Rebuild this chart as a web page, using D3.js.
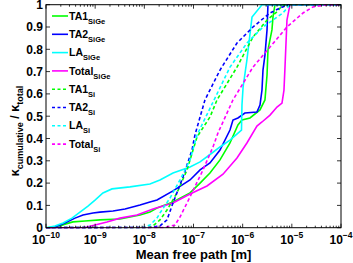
<!DOCTYPE html>
<html><head><meta charset="utf-8">
<script src="https://cdn.jsdelivr.net/npm/d3@7"></script>
<style>body{margin:0;background:#fff}svg{display:block;font-family:"Liberation Sans",Arial,sans-serif;font-weight:bold}</style>
</head><body>
<script>
// Data: mean free path [m] and normalized cumulative conductivity
const ta1SiGeX = [1e-10,1.68e-10,2.43e-10,3.54e-10,6.21e-10,1.25e-9,3.2e-9,8.17e-9,1.3e-8,1.81e-8,3.83e-8,8.49e-8,1.36e-7,2.16e-7,3.46e-7,5.52e-7,8.02e-7,9.68e-7,1.41e-6,2.25e-6,2.84e-6,3.13e-6,3.27e-6,3.94e-6,4.14e-6,4.54e-6,1e-4];
const ta1SiGeY = [0,0.003,0.016,0.026,0.030,0.035,0.039,0.057,0.070,0.088,0.115,0.156,0.200,0.245,0.304,0.380,0.461,0.483,0.492,0.528,0.573,0.685,0.797,0.887,0.945,1,1];
const ta2SiGeX = [1e-10,1.39e-10,1.93e-10,2.67e-10,3.89e-10,5.65e-10,9.04e-10,1.25e-9,2.31e-9,4.05e-9,8.17e-9,1.3e-8,1.81e-8,3.83e-8,8.49e-8,1.36e-7,2.16e-7,3.46e-7,5.52e-7,6.35e-7,8.02e-7,1.11e-6,1.95e-6,2.25e-6,2.47e-6,2.59e-6,2.84e-6,3.13e-6,3.27e-6,1e-4];
const ta2SiGeY = [0,0.001,0.012,0.026,0.043,0.057,0.066,0.070,0.075,0.084,0.102,0.115,0.124,0.165,0.214,0.259,0.290,0.348,0.438,0.483,0.492,0.514,0.519,0.550,0.617,0.707,0.774,0.887,1,1];
const laSiGeX = [1e-10,1.52e-10,2.22e-10,3.38e-10,4.91e-10,7.14e-10,9.93e-10,1.44e-9,2.2e-9,5.1e-9,1.3e-8,2.08e-8,3.83e-8,8.49e-8,1.36e-7,2.38e-7,3.46e-7,5.52e-7,9.46e-7,9.68e-7,1.02e-6,1.22e-6,1.55e-6,2.47e-6,1e-4];
const laSiGeY = [0,0.008,0.021,0.043,0.070,0.097,0.124,0.156,0.174,0.183,0.196,0.214,0.245,0.272,0.295,0.335,0.362,0.393,0.438,0.550,0.631,0.752,0.945,1,1];
const totSiGeX = [1e-10,6.21e-10,9.93e-10,1.74e-9,3.2e-9,7.1e-9,1.5e-8,3.83e-8,8.49e-8,1.88e-7,3.98e-7,7.66e-7,1.22e-6,1.95e-6,2.47e-6,3.6e-6,4.99e-6,6.31e-6,6.92e-6,7.26e-6,7.96e-6,9.16e-6,1e-4];
const totSiGeY = [0,0.001,0.012,0.026,0.043,0.057,0.084,0.111,0.151,0.187,0.240,0.313,0.380,0.456,0.474,0.505,0.541,0.559,0.617,0.720,0.931,1,1];
const ta1SiX = [1e-10,1.19e-8,1.5e-8,2.08e-8,2.89e-8,4.61e-8,7.38e-8,9.77e-8,1.18e-7,2.16e-7,3.01e-7,7.66e-7,1.62e-6,3.13e-6,4.99e-6,6.61e-6,1e-4];
const ta1SiY = [0,0.001,0.008,0.035,0.079,0.156,0.259,0.348,0.407,0.496,0.573,0.720,0.855,0.931,0.968,1,1];
const ta2SiX = [1e-10,1.3e-8,2.08e-8,2.89e-8,3.83e-8,6.11e-8,9.31e-8,1.07e-7,1.71e-7,3.46e-7,7.66e-7,1.62e-6,3.6e-6,5.74e-6,8.36e-6,1e-4];
const ta2SiY = [0,0.001,0.008,0.035,0.111,0.227,0.348,0.416,0.573,0.707,0.828,0.900,0.963,0.985,1,1];
const laSiX = [1e-10,9.4e-9,1.3e-8,1.81e-8,2.08e-8,3.33e-8,5.31e-8,8.49e-8,1.18e-7,2.38e-7,5.52e-7,1.22e-6,2.59e-6,6.61e-6,9.16e-6,1e-4];
const laSiY = [0,0.001,0.012,0.043,0.066,0.133,0.214,0.304,0.416,0.554,0.720,0.828,0.900,0.963,1,1];
const totSiX = [1e-10,2.63e-8,4.2e-8,5.31e-8,8.49e-8,1.56e-7,2.49e-7,3.15e-7,6.35e-7,1.62e-6,3.6e-6,7.96e-6,1.69e-5,2.69e-5,5.19e-5,1e-4];
const totSiY = [0,0.001,0.012,0.048,0.138,0.259,0.362,0.425,0.573,0.720,0.810,0.900,0.963,0.990,1,1];

const seriesNames = ["TA1","TA2","LA","Total","TA1","TA2","LA","Total"];
const seriesSubs = ["SiGe","SiGe","SiGe","SiGe","Si","Si","Si","Si"];
const seriesColors = ["#00ff00","#0000ff","#00ffff","#ff00ff","#00ff00","#0000ff","#00ffff","#ff00ff"];
const seriesDashed = [false,false,false,false,true,true,true,true];
const seriesX = [ta1SiGeX,ta2SiGeX,laSiGeX,totSiGeX,ta1SiX,ta2SiX,laSiX,totSiX];
const seriesY = [ta1SiGeY,ta2SiGeY,laSiGeY,totSiGeY,ta1SiY,ta2SiY,laSiY,totSiY];
const xTickExps = [-10,-9,-8,-7,-6,-5,-4];
const yTicks = [0,0.1,0.2,0.3,0.4,0.5,0.6,0.7,0.8,0.9,1];

const W=353,H=263, L=46, R=341, T=4.7, B=227.7;
const svg=d3.select("body").append("svg").attr("width",W).attr("height",H);
const x=d3.scaleLog().domain([1e-10,1e-4]).range([L,R]);
const y=d3.scaleLinear().domain([0,1]).range([B,T]);

svg.append("clipPath").attr("id","clip").append("rect").attr("x",L).attr("y",T-1).attr("width",R-L).attr("height",B-T+2);

const line=d3.line().x(d=>x(d[0])).y(d=>y(d[1]));
const g=svg.append("g").attr("clip-path","url(#clip)");
seriesX.forEach((xs,i)=>{
  const pts=xs.map((v,j)=>[v,seriesY[i][j]]);
  g.append("path").attr("d",line(pts)).attr("fill","none")
   .attr("stroke",seriesColors[i]).attr("stroke-width",1.6)
   .attr("stroke-dasharray",seriesDashed[i]?"3.5,2.5":null);
});

// axes frame
svg.append("rect").attr("x",L).attr("y",T).attr("width",R-L).attr("height",B-T)
  .attr("fill","none").attr("stroke","#000").attr("stroke-width",1);

// x ticks (major+minor), inward, bottom and top
const minor=[];
for(let e=-10;e<-4;e++){for(let k=2;k<=9;k++)minor.push(k*Math.pow(10,e));}
const tk=svg.append("g").attr("stroke","#000").attr("stroke-width",0.8);
xTickExps.forEach(e=>{const px=x(Math.pow(10,e));
  tk.append("line").attr("x1",px).attr("x2",px).attr("y1",B).attr("y2",B-4);
  tk.append("line").attr("x1",px).attr("x2",px).attr("y1",T).attr("y2",T+4);});
minor.forEach(v=>{const px=x(v);
  tk.append("line").attr("x1",px).attr("x2",px).attr("y1",B).attr("y2",B-2);
  tk.append("line").attr("x1",px).attr("x2",px).attr("y1",T).attr("y2",T+2);});
yTicks.forEach(v=>{const py=y(v);
  tk.append("line").attr("x1",L).attr("x2",L+4).attr("y1",py).attr("y2",py);
  tk.append("line").attr("x1",R).attr("x2",R-4).attr("y1",py).attr("y2",py);});

// y tick labels
yTicks.forEach(v=>{
  svg.append("text").attr("x",L-3).attr("y",y(v)+4.3).attr("text-anchor","end")
   .attr("font-size",12).text(v===0?"0":v===1?"1":d3.format(".1f")(v));
});
// x tick labels
xTickExps.forEach(e=>{
  const t=svg.append("text").attr("x",x(Math.pow(10,e))).attr("y",243.5).attr("text-anchor","middle").attr("font-size",12);
  t.append("tspan").text("10");
  t.append("tspan").attr("dy",-6).attr("font-size",8.5).text("\u2212"+Math.abs(e));
});
// x label
svg.append("text").attr("x",(L+R)/2).attr("y",259).attr("text-anchor","middle").attr("font-size",13).text("Mean free path [m]");
// y label
const yl=svg.append("text").attr("transform","translate(19,131) rotate(-90)").attr("text-anchor","middle").attr("font-size",12.5);
yl.append("tspan").text("\u03ba");
yl.append("tspan").attr("dy",4).attr("font-size",9).text("cumulative");
yl.append("tspan").attr("dy",-4).text(" / \u03ba");
yl.append("tspan").attr("dy",4).attr("font-size",9).text("total");

// legend
const legY0=16, legDy=18.3;
seriesNames.forEach((n,i)=>{
  const yy=legY0+i*legDy;
  svg.append("line").attr("x1",52).attr("x2",68).attr("y1",yy).attr("y2",yy)
    .attr("stroke",seriesColors[i]).attr("stroke-width",1.6)
    .attr("stroke-dasharray",seriesDashed[i]?"3,2.5":null);
  const t=svg.append("text").attr("x",69).attr("y",yy+3.6).attr("font-size",10.5);
  t.append("tspan").text(n);
  t.append("tspan").attr("dy",4).attr("font-size",7.5).text(seriesSubs[i]);
});
</script>
</body></html>
